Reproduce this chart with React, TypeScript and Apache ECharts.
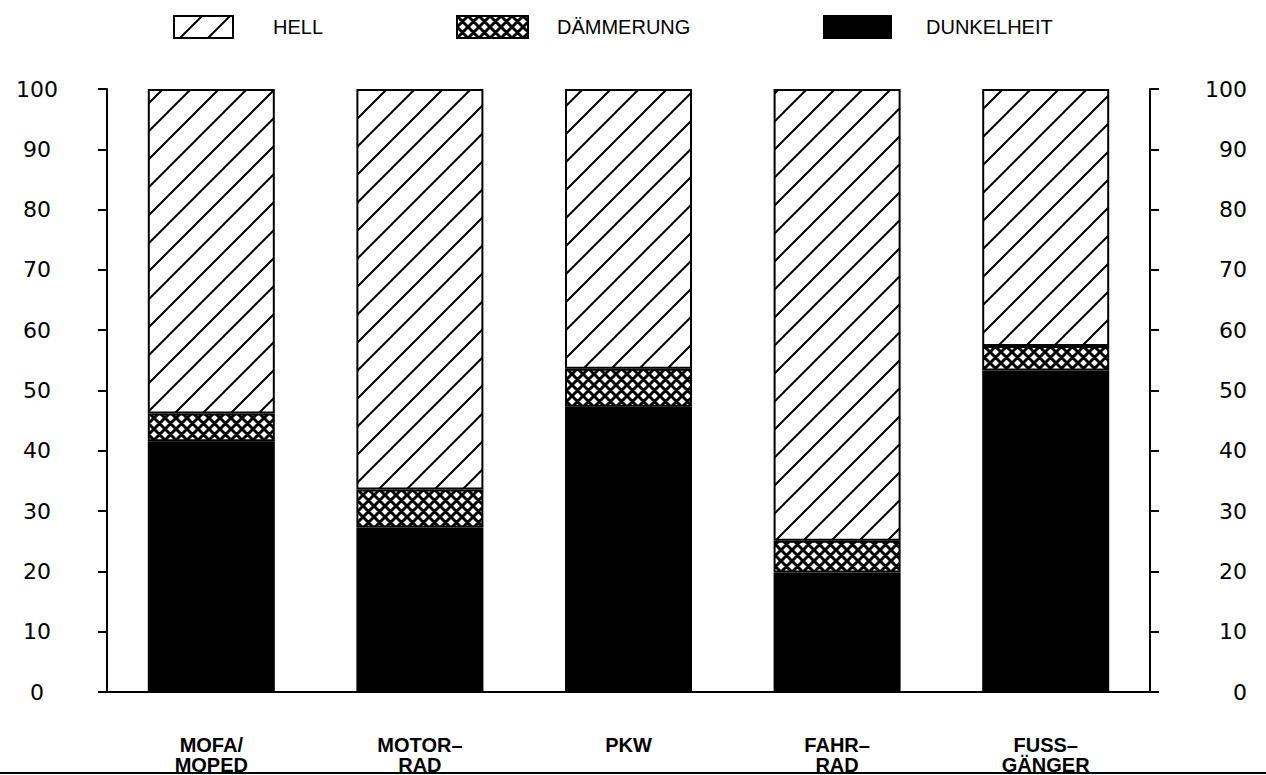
import React, { useEffect, useRef } from "react";
import * as echarts from "echarts";

const categories = ["MOFA/\nMOPED", "MOTOR–\nRAD", "PKW", "FAHR–\nRAD", "FUSS–\nGÄNGER"];
const seriesNames = ["HELL", "DÄMMERUNG", "DUNKELHEIT"];
const dunkelheit = [41.6, 27.3, 47.3, 19.8, 53.3];
const daemmerung = [4.6, 6.3, 6.3, 5.3, 4.1];
const hell = [53.8, 66.4, 46.4, 74.9, 42.6];
const yTicks = { min: 0, max: 100, interval: 10 };

function hatchPattern(size: number, width: number) {
  const c = document.createElement("canvas");
  c.width = size;
  c.height = size;
  const ctx = c.getContext("2d")!;
  ctx.fillStyle = "#fff";
  ctx.fillRect(0, 0, size, size);
  ctx.strokeStyle = "#000";
  ctx.lineWidth = width;
  ctx.beginPath();
  ctx.moveTo(-size, 2 * size);
  ctx.lineTo(2 * size, -size);
  ctx.moveTo(-size, size);
  ctx.lineTo(size, -size);
  ctx.moveTo(0, 2 * size);
  ctx.lineTo(2 * size, 0);
  ctx.stroke();
  return { image: c, repeat: "repeat" as const };
}

function crossPattern(size: number, width: number) {
  const c = document.createElement("canvas");
  c.width = size;
  c.height = size;
  const ctx = c.getContext("2d")!;
  ctx.fillStyle = "#fff";
  ctx.fillRect(0, 0, size, size);
  ctx.strokeStyle = "#000";
  ctx.lineWidth = width;
  ctx.beginPath();
  for (const o of [-size, 0, size]) {
    ctx.moveTo(o - size, size + size);
    ctx.lineTo(o + 2 * size, -size);
    ctx.moveTo(o - size, -size);
    ctx.lineTo(o + 2 * size, 2 * size);
  }
  ctx.stroke();
  return { image: c, repeat: "repeat" as const };
}

export default function App() {
  const ref = useRef<HTMLDivElement>(null);
  useEffect(() => {
    if (!ref.current) return;
    const chart = echarts.init(ref.current, undefined, { renderer: "svg" });
    const hellFill = hatchPattern(28, 2);
    const dammFill = crossPattern(11, 3);
    const fills: any[] = [hellFill, dammFill, "#000"];
    const legendLeft = [173, 456, 823];
    const legendIconW = [59, 71, 67];
    const legendPad = [35, 24, 30];
    const numFont = "DejaVu Sans";
    const textFont = "Liberation Sans";
    const yAxisCommon = {
      type: "value",
      ...yTicks,
      axisLine: { show: true, lineStyle: { color: "#000", width: 2 } },
      axisTick: { show: true, length: 9, lineStyle: { color: "#000", width: 2 } },
      splitLine: { show: false },
    };
    const seriesData = [hell, daemmerung, dunkelheit];
    const order = [2, 1, 0];
    chart.setOption({
      animation: false,
      backgroundColor: "#fff",
      legend: seriesNames.map((name, i) => ({
        data: [name],
        left: legendLeft[i],
        top: 15,
        padding: 0,
        itemWidth: legendIconW[i],
        itemHeight: 22,
        icon: "rect",
        selectedMode: false,
        textStyle: {
          fontSize: 20,
          fontFamily: textFont,
          color: "#000",
          padding: [0, 0, 0, legendPad[i]],
        },
      })),
      grid: { left: 107, right: 116, top: 89, bottom: 80 },
      xAxis: {
        type: "category",
        data: categories,
        axisLine: { lineStyle: { color: "#000", width: 2 } },
        axisTick: { show: false },
        axisLabel: {
          interval: 0,
          margin: 43,
          fontSize: 20,
          lineHeight: 20,
          fontFamily: textFont,
          fontWeight: "bold",
          color: "#000",
        },
      },
      yAxis: [
        {
          ...yAxisCommon,
          position: "left",
          axisLabel: { align: "center", margin: 70, fontSize: 22, fontFamily: numFont, color: "#000" },
        },
        {
          ...yAxisCommon,
          position: "right",
          axisLabel: { align: "right", margin: 97, fontSize: 22, fontFamily: numFont, color: "#000" },
        },
      ],
      series: order.map((i) => ({
        name: seriesNames[i],
        type: "bar",
        stack: "total",
        barWidth: 127,
        data: seriesData[i],
        itemStyle: { color: fills[i], borderColor: "#000", borderWidth: 2 },
      })),
      graphic: [
        {
          type: "line",
          shape: { x1: 0, y1: 773, x2: 1266, y2: 773 },
          style: { stroke: "#000", lineWidth: 2 },
        },
      ],
    });
    return () => chart.dispose();
  }, []);
  return (
    <div
      ref={ref}
      style={{ position: "fixed", left: 0, top: 0, width: 1266, height: 775, background: "#fff" }}
    />
  );
}
